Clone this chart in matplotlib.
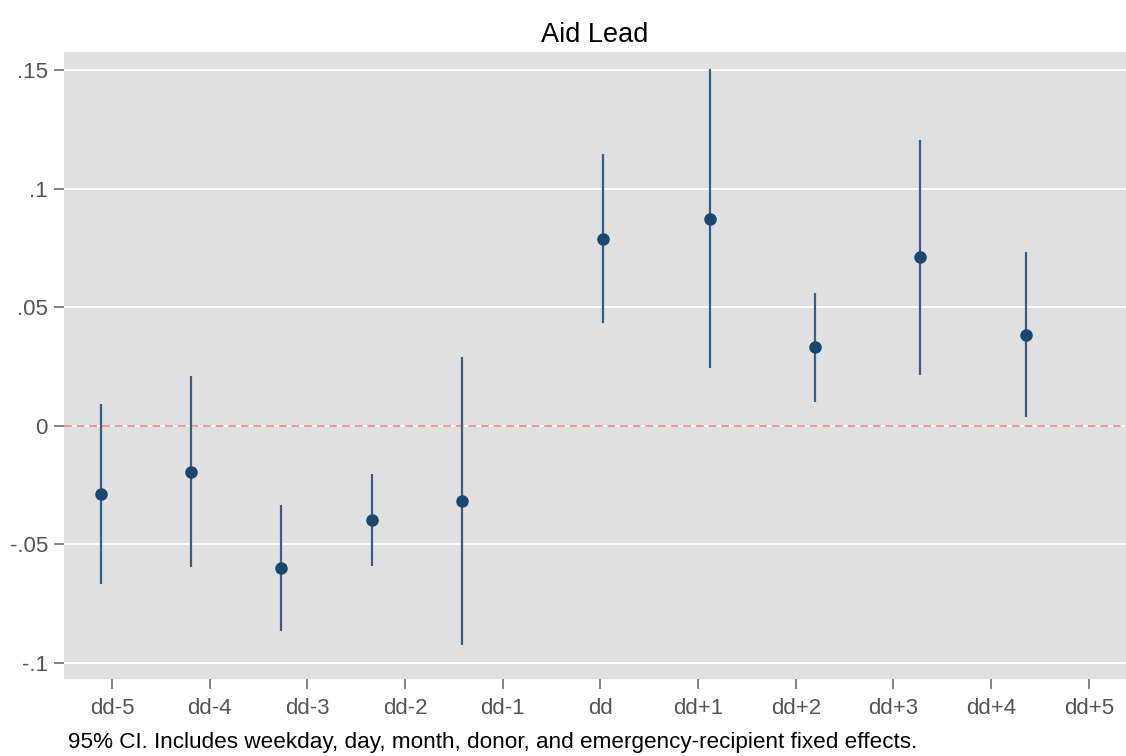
import numpy as np
import matplotlib
matplotlib.use('Agg')
import matplotlib.pyplot as plt

plt.rcParams['font.family'] = ['Liberation Sans', 'DejaVu Sans']

# tick categories (positions 1..11)
tick_labels = ['dd-5', 'dd-4', 'dd-3', 'dd-2', 'dd-1', 'dd',
               'dd+1', 'dd+2', 'dd+3', 'dd+4', 'dd+5']

# coefficient positions on the x scale, estimates and 95% CI
coef_pos = [0.887, 1.809, 2.735, 3.661, 4.582, 6.031, 7.12, 8.195, 9.27, 10.355]
coef = [-0.0288, -0.0193, -0.0600, -0.0397, -0.0318,
        0.0789, 0.0875, 0.0332, 0.0712, 0.0385]
ci_low = [-0.0667, -0.0594, -0.0864, -0.0591, -0.0925,
          0.0433, 0.0243, 0.0100, 0.0215, 0.0037]
ci_high = [0.0092, 0.0210, -0.0333, -0.0203, 0.0290,
           0.1146, 0.1506, 0.0563, 0.1207, 0.0734]

y_ticks = [-0.1, -0.05, 0, 0.05, 0.1, 0.15]
y_tick_labels = ['-.1', '-.05', '0', '.05', '.1', '.15']

fig = plt.figure(figsize=(11.26, 7.56), dpi=100)
ax = fig.add_axes([0.0568, 0.1019, 0.9432, 0.8293])
ax.set_facecolor('#e0e0e0')

for s in ax.spines.values():
    s.set_visible(False)

# grid lines
for yv in y_ticks:
    ax.axhline(yv, color='white', lw=1.4, zorder=1)
ax.axhline(0, color='#f4948a', lw=1.4, ls=(0, (4, 2.5)), zorder=2)

# CIs and points
ax.vlines(coef_pos, ci_low, ci_high, color='#3a5d82', lw=1.6, zorder=3)
ax.plot(coef_pos, coef, 'o', color='#1a476f', ms=8, zorder=4)

ax.set_xlim(0.509, 11.38)
ax.set_ylim(-0.1068, 0.1578)
ax.set_xticks(np.arange(1, len(tick_labels) + 1))
ax.set_xticklabels(tick_labels)
ax.set_yticks(y_ticks)
ax.set_yticklabels(y_tick_labels)
ax.tick_params(axis='both', colors='#6e6e6e', labelcolor='#555555',
               labelsize=16, length=7.5, width=1.2)
ax.tick_params(axis='x', pad=6)
ax.tick_params(axis='y', pad=4)

ax.set_title('Aid Lead', fontsize=19.5, color='black', pad=7)

fig.text(0.060, 0.0172, '95% CI. Includes weekday, day, month, donor, and '
         'emergency-recipient fixed effects.', fontsize=16.2, color='black',
         va='center')

plt.savefig('out.png', dpi=100)
plt.close()
